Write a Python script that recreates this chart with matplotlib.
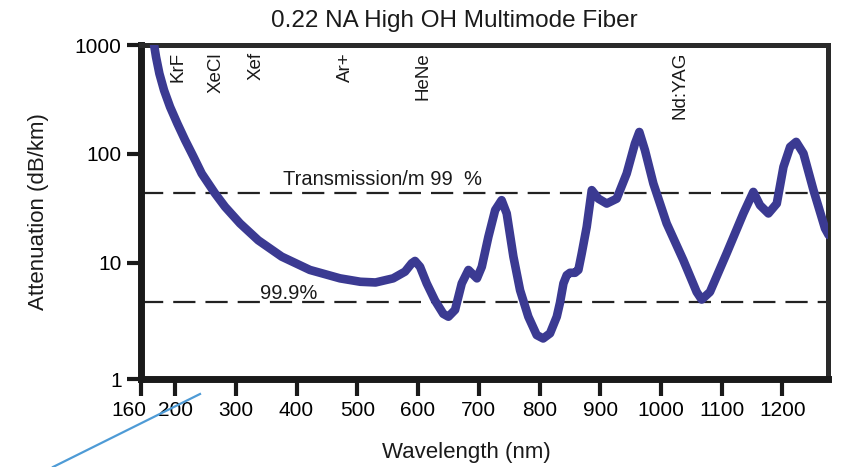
import numpy as np
import matplotlib.pyplot as plt
from matplotlib.lines import Line2D
from matplotlib.transforms import ScaledTranslation

plt.rcParams['font.family'] = ['Liberation Sans', 'DejaVu Sans']

# attenuation curve
wavelength = [160, 164.3, 168.7, 174.2, 181.9, 191.8, 203.8, 216.5, 230, 243.9, 265.8, 282.3,
              307, 337, 375.6, 422, 471.6, 505, 530, 559, 578.6, 589.6, 595, 603.3, 614.3,
              628, 641.6, 650, 661, 672, 683, 697, 705, 715.8, 727, 737.6, 746, 757, 768,
              781.6, 795.4, 806, 817.3, 828.4, 833.7, 839.4, 844.8, 850.2, 858.4, 864, 869.5,
              877.7, 886, 897, 910.6, 927, 943.5, 957, 964.3, 973.6, 987.4, 1009.3, 1036.7,
              1058.7, 1067, 1080.6, 1108, 1135.6, 1152, 1163, 1176.8, 1190.6, 1201.6, 1212.6,
              1222.5, 1234.5, 1251, 1270, 1276]
attenuation = [1500, 1104, 776, 547, 384, 270, 190, 134, 95, 66, 43.4, 32.7,
               23, 16.1, 11.4, 8.6, 7.2, 6.7, 6.6, 7.2, 8.3, 9.9, 10.4, 9.2, 6.47,
               4.5, 3.4, 3.2, 3.7, 6.47, 8.6, 7.2, 9.2, 17.3, 30.5, 37.6, 28.4, 11.4, 5.6,
               3.2, 2.17, 2.02, 2.25, 3.2, 4.3, 6.47, 7.7, 8.1, 8.1, 8.6, 12.2,
               21.4, 46.5, 38.8, 35, 38.8, 66, 124, 159, 108, 53.5, 23, 10.6,
               5.4, 4.6, 5.4, 12.2, 28.4, 44.8, 33.8, 28.4, 35, 76, 116,
               129, 101, 46.5, 20.7, 18]

# transmission per metre reference levels (dB/km)
level_99 = 43.6
level_999 = 4.36

lasers = ['KrF', 'XeCl', 'Xef', 'Ar+', 'HeNe', 'Nd:YAG']
laser_x = [205, 267, 333, 480, 608, 1031]

x_ticks = [144, 200, 300, 400, 500, 600, 700, 800, 900, 1000, 1100, 1200]
x_tick_labels = ['160', '200', '300', '400', '500', '600', '700', '800', '900', '1000', '1100', '1200']
y_ticks = [0.857, 10, 100, 1000]
y_tick_labels = ['1', '10', '100', '1000']

fig = plt.figure(figsize=(8.44, 4.67), dpi=100)
ax = fig.add_axes([0.1671, 0.1884, 0.8140, 0.7152])

ax.plot(wavelength, attenuation, color='#3b3a92', lw=6.2, solid_capstyle='round',
        solid_joinstyle='round', zorder=3)
for lv in (level_99, level_999):
    ax.axhline(lv, color='#222222', lw=1.6, ls=(0, (10, 4.5)), zorder=2)

ax.set_yscale('log')
ax.set_xlim(144, 1275)
ax.set_ylim(0.857, 1000)
ax.set_xticks(x_ticks)
ax.set_xticklabels(x_tick_labels)
ax.set_yticks(y_ticks)
ax.set_yticklabels(y_tick_labels)
ax.minorticks_off()
ax.tick_params(axis='x', direction='out', length=12.5, width=3, color='#1a1a1a', labelsize=15, pad=3)
ax.tick_params(axis='y', direction='out', length=10, width=3, color='#1a1a1a', labelsize=15, pad=4)

# the "160" label sits a little left of the axis corner in the original
lab = ax.get_xticklabels()[0]
lab.set_transform(lab.get_transform() + ScaledTranslation(-0.12, 0, fig.dpi_scale_trans))

for s in ('left', 'bottom'):
    ax.spines[s].set_linewidth(5)
    ax.spines[s].set_color('#1a1a1a')
for s in ('top', 'right'):
    ax.spines[s].set_linewidth(3.6)
    ax.spines[s].set_color('#2a2a2a')

tr = ax.get_xaxis_transform()
for name, x in zip(lasers, laser_x):
    ax.text(x, 0.979, name, rotation=90, ha='center', va='top', fontsize=13.5,
            transform=tr, color='#1a1a1a')

ax.text(378, 52, 'Transmission/m 99  %', fontsize=14.5, ha='left', va='baseline', color='#1a1a1a')
ax.text(340, 4.7, '99.9%', fontsize=14.5, ha='left', va='baseline', color='#1a1a1a')

fig.text(0.538, 0.942, '0.22 NA High OH Multimode Fiber', fontsize=17.5, ha='center',
         va='baseline', color='#1a1a1a')
fig.text(0.553, 0.019, 'Wavelength (nm)', fontsize=16, ha='center', va='baseline', color='#1a1a1a')
fig.text(0.046, 0.548, 'Attenuation (dB/km)', fontsize=16, rotation=90, ha='center',
         va='center', color='#1a1a1a')

# stray pointer line in the original picture
fig.add_artist(Line2D([53 / 844, 200 / 844], [0, 1 - 394 / 467], color='#4e9bd6', lw=1.6,
                      transform=fig.transFigure))

fig.savefig('out.png', dpi=100)
